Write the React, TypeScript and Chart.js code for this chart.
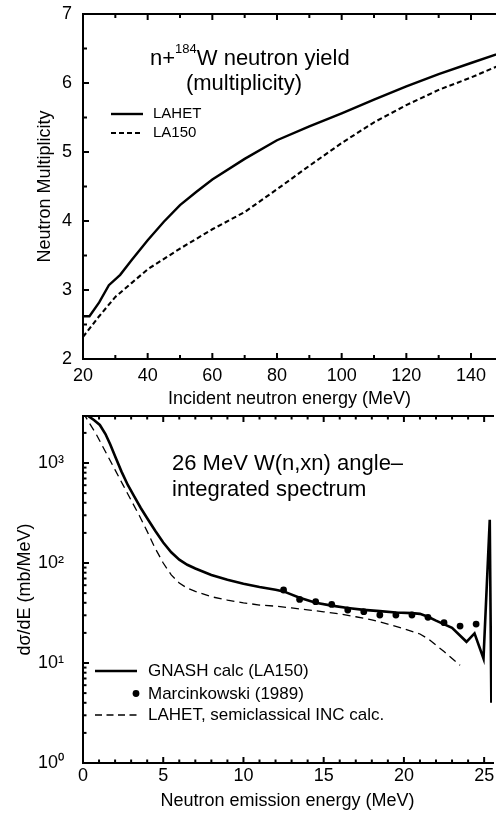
import React, { useEffect, useRef } from 'react';
import { Chart, registerables } from 'chart.js';

Chart.register(...registerables);

const FONT = '"Liberation Sans", Arial, Helvetica, sans-serif';
const TICK_COLOR = '#000';

// ---------- Upper panel: n + 184W neutron yield (multiplicity) ----------
const incidentEnergyLahet = [20, 22, 25, 28, 31.5, 35, 40, 45, 50, 55, 60, 70, 80, 90, 100, 110, 120, 130, 140, 150];
const multiplicityLahet = [2.62, 2.62, 2.82, 3.07, 3.22, 3.43, 3.72, 3.99, 4.23, 4.42, 4.6, 4.9, 5.17, 5.37, 5.56, 5.76, 5.95, 6.13, 6.29, 6.45];
const incidentEnergyLa150 = [20, 25, 30, 35, 40, 50, 60, 70, 80, 90, 100, 110, 120, 130, 140, 150];
const multiplicityLa150 = [2.32, 2.62, 2.9, 3.1, 3.3, 3.6, 3.88, 4.13, 4.46, 4.8, 5.13, 5.43, 5.68, 5.9, 6.08, 6.28];
const incidentEnergyTicks = [20, 40, 60, 80, 100, 120, 140];
const incidentEnergyMinor = [30, 50, 70, 90, 110, 130, 150];
const multiplicityTicks = [2, 3, 4, 5, 6, 7];
const multiplicityMinor = [2.5, 3.5, 4.5, 5.5, 6.5];

// ---------- Lower panel: 26 MeV W(n,xn) angle-integrated spectrum ----------
const emissionEnergyGnash = [0, 0.33, 0.7, 1.05, 1.4, 1.7, 2.0, 2.4, 2.8, 3.2, 3.6, 4.0, 4.5, 5.0, 5.5, 6.0, 6.5, 7.0, 8.0, 9.0, 10.0, 11.0, 12.0, 12.5, 13.5, 14.5, 15.5, 16.5, 17.5, 18.5, 19.5, 20.5, 21.0, 21.5, 22.0, 23.0, 23.9, 24.4, 24.96, 25.35, 25.45];
const spectrumGnash = [3500, 2950, 2680, 2400, 1950, 1530, 1170, 820, 600, 460, 355, 280, 210, 160, 128, 108, 96, 88, 76, 68, 62, 57.5, 54, 52, 45, 40, 37.5, 35.5, 34, 33, 32, 31.5, 31, 29, 26.5, 22.5, 16.3, 19.8, 11.1, 270, 4];
const emissionEnergyMeasured = [12.5, 13.5, 14.5, 15.5, 16.5, 17.5, 18.5, 19.5, 20.5, 21.5, 22.5, 23.5, 24.5];
const spectrumMeasured = [53.7, 43.2, 41.0, 38.5, 33.9, 32.6, 30.2, 30.2, 30.2, 28.6, 25.3, 23.4, 24.5];
const emissionEnergyLahet = [0, 0.85, 1.5, 2.0, 2.5, 3.0, 3.5, 4.0, 4.5, 5.0, 5.5, 6.0, 6.5, 7.0, 8.0, 9.0, 10.0, 11.0, 12.0, 13.0, 14.0, 15.0, 16.0, 17.0, 18.0, 19.0, 20.0, 21.0, 21.5, 22.5, 23.5];
const spectrumLahet = [3200, 1905, 1210, 853, 601, 424, 300, 207, 140, 100, 76, 63, 56, 52, 46, 42.5, 40, 38, 37, 35.5, 34, 32.5, 31, 29, 27, 24.5, 22, 19.5, 17.5, 13, 9.5];
const emissionEnergyTicks = [0, 5, 10, 15, 20, 25];
const emissionEnergyMinor = [1, 2, 3, 4, 6, 7, 8, 9, 11, 12, 13, 14, 16, 17, 18, 19, 21, 22, 23, 24];
const spectrumTicks = [1, 10, 100, 1000];
const spectrumTickLabels = ['10\u2070', '10\u00b9', '10\u00b2', '10\u00b3'];
const spectrumMinor = [2, 3, 4, 5, 6, 7, 8, 9, 20, 30, 40, 50, 60, 70, 80, 90, 200, 300, 400, 500, 600, 700, 800, 900, 2000];

type FrameCfg = { xMajor: number[]; xMinor: number[]; yMajor: number[]; yMinor: number[]; major: number; minor: number };

function framePlugin(cfg: FrameCfg) {
  return {
    id: 'frameTicks',
    afterDraw(chart: any) {
      const ctx = chart.ctx;
      const a = chart.chartArea;
      const xs = chart.scales.x;
      const ys = chart.scales.y;
      ctx.save();
      ctx.strokeStyle = TICK_COLOR;
      ctx.lineWidth = 2;
      const xt = (vals: number[], len: number) => {
        for (const v of vals) {
          const p = xs.getPixelForValue(v);
          if (p > a.right + 1) continue;
          ctx.beginPath();
          ctx.moveTo(p, a.bottom);
          ctx.lineTo(p, a.bottom - len);
          ctx.stroke();
          ctx.beginPath();
          ctx.moveTo(p, a.top);
          ctx.lineTo(p, a.top + len);
          ctx.stroke();
        }
      };
      const yt = (vals: number[], len: number) => {
        for (const v of vals) {
          const p = ys.getPixelForValue(v);
          if (p < a.top - 1) continue;
          ctx.beginPath();
          ctx.moveTo(a.left, p);
          ctx.lineTo(a.left + len, p);
          ctx.stroke();
        }
      };
      xt(cfg.xMajor, cfg.major);
      xt(cfg.xMinor, cfg.minor);
      yt(cfg.yMajor, cfg.major);
      yt(cfg.yMinor, cfg.minor);
      ctx.strokeStyle = '#000';
      ctx.lineWidth = 2;
      ctx.beginPath();
      ctx.moveTo(a.right + 2, a.top);
      ctx.lineTo(a.left, a.top);
      ctx.lineTo(a.left, a.bottom);
      ctx.lineTo(a.right + 2, a.bottom);
      ctx.stroke();
      ctx.restore();
    },
  };
}

const topTextPlugin = {
  id: 'topText',
  afterDraw(chart: any) {
    const ctx = chart.ctx;
    ctx.save();
    ctx.fillStyle = '#000';
    ctx.textBaseline = 'alphabetic';
    ctx.textAlign = 'left';
    let x = 150;
    ctx.font = `22px ${FONT}`;
    ctx.fillText('n+', x, 65);
    x += ctx.measureText('n+').width;
    ctx.font = `13px ${FONT}`;
    ctx.fillText('184', x, 53);
    x += ctx.measureText('184').width;
    ctx.font = `22px ${FONT}`;
    ctx.fillText('W neutron yield', x, 65);
    ctx.textAlign = 'center';
    ctx.fillText('(multiplicity)', 244, 90);

    ctx.strokeStyle = '#000';
    ctx.lineWidth = 2.4;
    ctx.beginPath();
    ctx.moveTo(111, 114);
    ctx.lineTo(143, 114);
    ctx.stroke();
    ctx.lineWidth = 2.1;
    ctx.setLineDash([5, 3]);
    ctx.beginPath();
    ctx.moveTo(111, 133);
    ctx.lineTo(143, 133);
    ctx.stroke();
    ctx.setLineDash([]);
    ctx.textAlign = 'left';
    ctx.textBaseline = 'middle';
    ctx.font = `15px ${FONT}`;
    ctx.fillText('LAHET', 153, 114);
    ctx.fillText('LA150', 153, 133);
    ctx.restore();
  },
};

const bottomTextPlugin = {
  id: 'bottomText',
  afterDraw(chart: any) {
    const ctx = chart.ctx;
    ctx.save();
    ctx.fillStyle = '#000';
    ctx.textBaseline = 'alphabetic';
    ctx.textAlign = 'left';
    ctx.font = `22px ${FONT}`;
    ctx.fillText('26 MeV W(n,xn) angle\u2013', 172, 62);
    ctx.fillText('integrated spectrum', 172, 88);

    ctx.strokeStyle = '#000';
    ctx.lineWidth = 2.6;
    ctx.beginPath();
    ctx.moveTo(95, 263);
    ctx.lineTo(137, 263);
    ctx.stroke();
    ctx.beginPath();
    ctx.arc(136, 285.5, 3.4, 0, Math.PI * 2);
    ctx.fill();
    ctx.lineWidth = 1.3;
    ctx.setLineDash([7, 4.5]);
    ctx.beginPath();
    ctx.moveTo(95, 307);
    ctx.lineTo(137, 307);
    ctx.stroke();
    ctx.setLineDash([]);
    ctx.textBaseline = 'middle';
    ctx.font = `17px ${FONT}`;
    ctx.fillText('GNASH calc (LA150)', 148, 263);
    ctx.fillText('Marcinkowski (1989)', 148, 286);
    ctx.fillText('LAHET, semiclassical INC calc.', 148, 307);
    ctx.restore();
  },
};

const pts = (xs: number[], ys: number[]) => xs.map((x, i) => ({ x, y: ys[i] }));

function topConfig(): any {
  return {
    type: 'line',
    data: {
      datasets: [
        { label: 'LAHET', data: pts(incidentEnergyLahet, multiplicityLahet), borderColor: '#000', borderWidth: 2.4, pointRadius: 0, fill: false, tension: 0 },
        { label: 'LA150', data: pts(incidentEnergyLa150, multiplicityLa150), borderColor: '#000', borderWidth: 2.1, borderDash: [5, 3], pointRadius: 0, fill: false, tension: 0 },
      ],
    },
    options: {
      responsive: false,
      animation: false,
      events: [],
      layout: { padding: { top: 14, left: 0, right: 0, bottom: 0 } },
      plugins: { legend: { display: false }, tooltip: { enabled: false } },
      scales: {
        x: {
          type: 'linear',
          min: 20,
          max: 147.73,
          grid: { display: false, drawTicks: false },
          border: { display: false },
          ticks: { font: { family: FONT, size: 18 }, color: '#000', padding: 6, autoSkip: false, maxRotation: 0 },
          afterBuildTicks: (s: any) => { s.ticks = incidentEnergyTicks.map((v) => ({ value: v })); },
          afterFit: (s: any) => { s.height = 49; s.paddingLeft = 0; s.paddingRight = 0; },
          title: { display: true, text: 'Incident neutron energy (MeV)', color: '#000', font: { family: FONT, size: 18, lineHeight: 1 }, padding: { top: 0, bottom: 0 } },
        },
        y: {
          type: 'linear',
          min: 2,
          max: 7,
          grid: { display: false, drawTicks: false },
          border: { display: false },
          ticks: { font: { family: FONT, size: 18 }, color: '#000', padding: 11 },
          afterBuildTicks: (s: any) => { s.ticks = multiplicityTicks.map((v) => ({ value: v })); },
          afterFit: (s: any) => { s.width = 83; s.paddingTop = 0; s.paddingBottom = 0; },
          title: { display: true, text: 'Neutron Multiplicity', color: '#000', font: { family: FONT, size: 18, lineHeight: 1 }, padding: { top: 36, bottom: 0 } },
        },
      },
    },
    plugins: [
      framePlugin({ xMajor: incidentEnergyTicks, xMinor: incidentEnergyMinor, yMajor: multiplicityTicks, yMinor: multiplicityMinor, major: 6, minor: 4 }),
      topTextPlugin,
    ],
  };
}

function bottomConfig(): any {
  return {
    type: 'line',
    data: {
      datasets: [
        { label: 'GNASH calc (LA150)', data: pts(emissionEnergyGnash, spectrumGnash), borderColor: '#000', borderWidth: 2.6, pointRadius: 0, fill: false, tension: 0 },
        { label: 'Marcinkowski (1989)', data: pts(emissionEnergyMeasured, spectrumMeasured), showLine: false, pointRadius: 3.4, pointBackgroundColor: '#000', pointBorderWidth: 0, borderColor: '#000' },
        { label: 'LAHET, semiclassical INC calc.', data: pts(emissionEnergyLahet, spectrumLahet), borderColor: '#000', borderWidth: 1.3, borderDash: [8, 5], pointRadius: 0, fill: false, tension: 0 },
      ],
    },
    options: {
      responsive: false,
      animation: false,
      events: [],
      layout: { padding: { top: 8, left: 0, right: 0, bottom: 0 } },
      plugins: { legend: { display: false }, tooltip: { enabled: false } },
      scales: {
        x: {
          type: 'linear',
          min: 0,
          max: 25.49,
          grid: { display: false, drawTicks: false },
          border: { display: false },
          ticks: { font: { family: FONT, size: 18 }, color: '#000', padding: 2, autoSkip: false, maxRotation: 0 },
          afterBuildTicks: (s: any) => { s.ticks = emissionEnergyTicks.map((v) => ({ value: v })); },
          afterFit: (s: any) => { s.height = 50; s.paddingLeft = 0; s.paddingRight = 0; },
          title: { display: true, text: 'Neutron emission energy (MeV)', color: '#000', font: { family: FONT, size: 18, lineHeight: 1 }, padding: { top: 0, bottom: 3 } },
        },
        y: {
          type: 'logarithmic',
          min: 1,
          max: 2951,
          grid: { display: false, drawTicks: false },
          border: { display: false },
          ticks: {
            font: { family: FONT, size: 18 },
            color: '#000',
            padding: 19,
            callback: (v: number) => {
              const i = spectrumTicks.indexOf(v);
              return i >= 0 ? spectrumTickLabels[i] : '';
            },
          },
          afterBuildTicks: (s: any) => { s.ticks = spectrumTicks.map((v) => ({ value: v })); },
          afterFit: (s: any) => { s.width = 83; s.paddingTop = 0; s.paddingBottom = 0; },
          title: { display: true, text: 'd\u03c3/dE (mb/MeV)', color: '#000', font: { family: FONT, size: 18, lineHeight: 1 }, padding: { top: 16, bottom: 0 } },
        },
      },
    },
    plugins: [
      framePlugin({ xMajor: emissionEnergyTicks, xMinor: emissionEnergyMinor, yMajor: spectrumTicks, yMinor: spectrumMinor, major: 6, minor: 3.5 }),
      bottomTextPlugin,
    ],
  };
}

export default function App() {
  const topRef = useRef<HTMLCanvasElement>(null);
  const botRef = useRef<HTMLCanvasElement>(null);
  useEffect(() => {
    const c1 = new Chart(topRef.current as HTMLCanvasElement, topConfig());
    const c2 = new Chart(botRef.current as HTMLCanvasElement, bottomConfig());
    return () => {
      c1.destroy();
      c2.destroy();
    };
  }, []);
  return (
    <div style={{ position: 'absolute', left: 0, top: 0, width: 496, height: 813, background: '#fff', overflow: 'hidden' }}>
      <canvas ref={topRef} width={496} height={408} style={{ display: 'block' }} />
      <canvas ref={botRef} width={496} height={405} style={{ display: 'block' }} />
    </div>
  );
}
